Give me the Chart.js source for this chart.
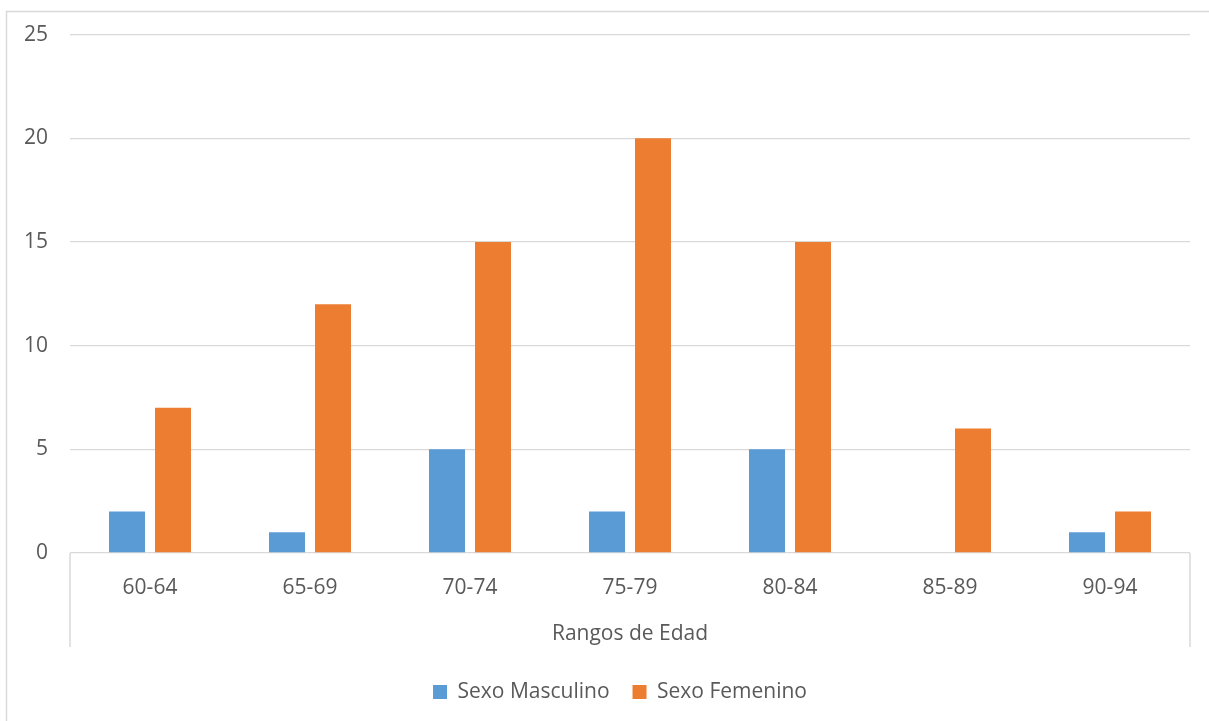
<!DOCTYPE html>
<html>
<head>
<meta charset="utf-8">
<script src="https://cdn.jsdelivr.net/npm/chart.js@4/dist/chart.umd.min.js"></script>
<style>
    html, body { margin: 0; padding: 0; background: #ffffff; }
    #wrap { width: 1209px; height: 721px; position: relative; }
</style>
</head>
<body>
<div id="wrap"><canvas id="edadChart" width="1209" height="721"></canvas></div>
<script>
// Age ranges and counts per sex
const rangos = ['60-64', '65-69', '70-74', '75-79', '80-84', '85-89', '90-94'];
const masculino = [2, 1, 5, 2, 5, 0, 1];
const femenino = [7, 12, 15, 20, 15, 6, 2];
const yTicks = [0, 5, 10, 15, 20, 25];

const GRID = '#d9d9d9';
const TEXT = '#595959';
const FONT = "'Open Sans', sans-serif";
const FONT_SIZE = 21;

// Frame around the chart plus the two category separators under the axis
const framePlugin = {
    id: 'frame',
    beforeDraw(chart) {
        const ctx = chart.ctx;
        ctx.save();
        ctx.strokeStyle = GRID;
        ctx.lineWidth = 1.5;
        ctx.beginPath();
        ctx.moveTo(6.5, 800);
        ctx.lineTo(6.5, 11.5);
        ctx.lineTo(1300, 11.5);
        ctx.stroke();
        ctx.restore();
    },
    afterDraw(chart) {
        const { ctx, chartArea } = chart;
        ctx.save();
        ctx.strokeStyle = GRID;
        ctx.lineWidth = 1.5;
        ctx.beginPath();
        [chartArea.left, chartArea.right].forEach(x => {
            ctx.moveTo(x, chartArea.bottom);
            ctx.lineTo(x, chartArea.bottom + 94);
        });
        ctx.stroke();
        ctx.restore();
    }
};

// Keep the legend row compact and nudge it a little to the right
const legendFit = {
    id: 'legendFit',
    beforeInit(chart) {
        const fit = chart.legend.fit;
        chart.legend.fit = function() {
            fit.call(this);
            this.height = 62.5;
        };
    },
    afterLayout(chart) {
        chart.legend.left += 20;
        chart.legend.right += 20;
    }
};

new Chart(document.getElementById('edadChart'), {
    type: 'bar',
    data: {
        labels: rangos,
        datasets: [{
            label: 'Sexo Masculino',
            data: masculino,
            backgroundColor: '#5b9bd5',
            categoryPercentage: 0.575,
            barPercentage: 0.7826
        }, {
            label: 'Sexo Femenino',
            data: femenino,
            backgroundColor: '#ed7d31',
            categoryPercentage: 0.575,
            barPercentage: 0.7826
        }]
    },
    options: {
        responsive: false,
        animation: false,
        layout: { padding: { left: 10, right: 19, top: 33, bottom: 0 } },
        scales: {
            x: {
                grid: { display: false },
                border: { display: false },
                ticks: { color: TEXT, font: { family: FONT, size: FONT_SIZE }, padding: 14 },
                title: {
                    display: true,
                    text: 'Rangos de Edad',
                    color: TEXT,
                    font: { family: FONT, size: FONT_SIZE },
                    padding: { top: 0, bottom: 12 }
                },
                afterFit(scale) { scale.height = 105.5; }
            },
            y: {
                min: 0,
                max: 25,
                afterBuildTicks(scale) { scale.ticks = yTicks.map(v => ({ value: v })); },
                grid: { color: GRID, lineWidth: 1.3, drawTicks: false },
                border: { display: false },
                ticks: { color: TEXT, font: { family: FONT, size: FONT_SIZE }, padding: 22 },
                afterFit(scale) { scale.width = 60; }
            }
        },
        plugins: {
            legend: {
                position: 'bottom',
                labels: {
                    boxWidth: 14,
                    boxHeight: 14,
                    padding: 23,
                    color: TEXT,
                    font: { family: FONT, size: FONT_SIZE }
                }
            },
            tooltip: { enabled: false }
        }
    },
    plugins: [framePlugin, legendFit]
});
</script>
</body>
</html>
